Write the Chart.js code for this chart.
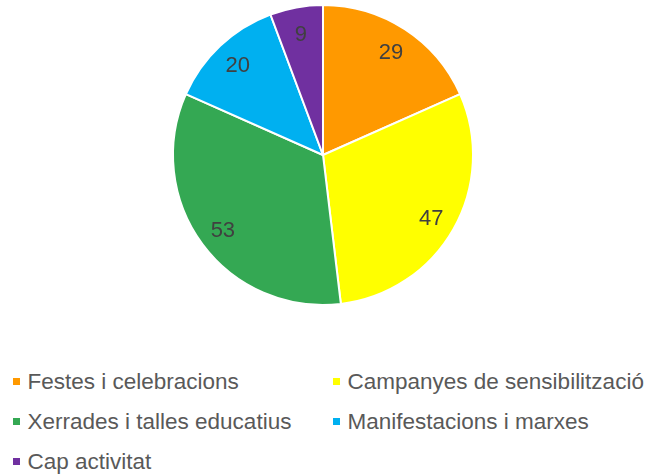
<!DOCTYPE html>
<html>
<head>
<meta charset="utf-8">
<script src="https://cdn.jsdelivr.net/npm/chart.js@4"></script>
<style>
  html, body { margin: 0; padding: 0; background: #fff; }
  #wrap { position: relative; width: 646px; height: 475px; overflow: hidden; font-family: "Liberation Sans", Arial, sans-serif; }
  #chart-box { position: absolute; left: 0; top: 0; width: 646px; height: 312px; }
  #legend { position: absolute; left: 0; top: 0; width: 646px; }
  .item { position: absolute; display: flex; align-items: center; height: 26px; font-size: 22.5px; color: #595959; white-space: nowrap; }
  .item span.box { display: inline-block; width: 7px; height: 7px; margin-right: 8px; flex: none; }
</style>
</head>
<body>
<div id="wrap">
  <div id="chart-box"><canvas id="chart"></canvas></div>
  <div id="legend"></div>
</div>
<script>
const labels = [
  "Festes i celebracions",
  "Campanyes de sensibilització",
  "Xerrades i talles educatius",
  "Manifestacions i marxes",
  "Cap activitat"
];
const values = [29, 47, 53, 20, 9];
const colors = ["#FF9900", "#FFFF00", "#34A853", "#00B0F0", "#7030A0"];

// draws the value inside each slice
const sliceLabels = {
  id: "sliceLabels",
  afterDatasetsDraw(chart) {
    const ctx = chart.ctx;
    const meta = chart.getDatasetMeta(0);
    ctx.save();
    ctx.font = "22px 'Liberation Sans', Arial, sans-serif";
    ctx.fillStyle = "#404040";
    ctx.textAlign = "center";
    ctx.textBaseline = "middle";
    meta.data.forEach((arc, i) => {
      const p = arc.getProps(["x", "y", "startAngle", "endAngle", "outerRadius"], true);
      const mid = (p.startAngle + p.endAngle) / 2;
      const r = p.outerRadius * 0.83;
      ctx.fillText(String(values[i]), p.x + Math.cos(mid) * r, p.y + Math.sin(mid) * r + 2);
    });
    ctx.restore();
  }
};

function createChart() {
  const ctx = document.getElementById("chart").getContext("2d");
  new Chart(ctx, {
    type: "pie",
    data: {
      labels: labels,
      datasets: [{
        data: values,
        backgroundColor: colors,
        borderColor: "#ffffff",
        borderWidth: 2
      }]
    },
    options: {
      responsive: true,
      maintainAspectRatio: false,
      animation: false,
      layout: { padding: { top: 4, bottom: 6 } },
      plugins: {
        legend: { display: false },
        tooltip: { enabled: false }
      }
    },
    plugins: [sliceLabels]
  });
}

function buildLegend() {
  const legend = document.getElementById("legend");
  labels.forEach((name, i) => {
    const el = document.createElement("div");
    el.className = "item";
    el.style.left = (i % 2 === 0 ? 12.5 : 332.5) + "px";
    el.style.top = (368.5 + Math.floor(i / 2) * 40) + "px";
    const box = document.createElement("span");
    box.className = "box";
    box.style.background = colors[i];
    el.appendChild(box);
    el.appendChild(document.createTextNode(name));
    legend.appendChild(el);
  });
}

createChart();
buildLegend();
</script>
</body>
</html>
